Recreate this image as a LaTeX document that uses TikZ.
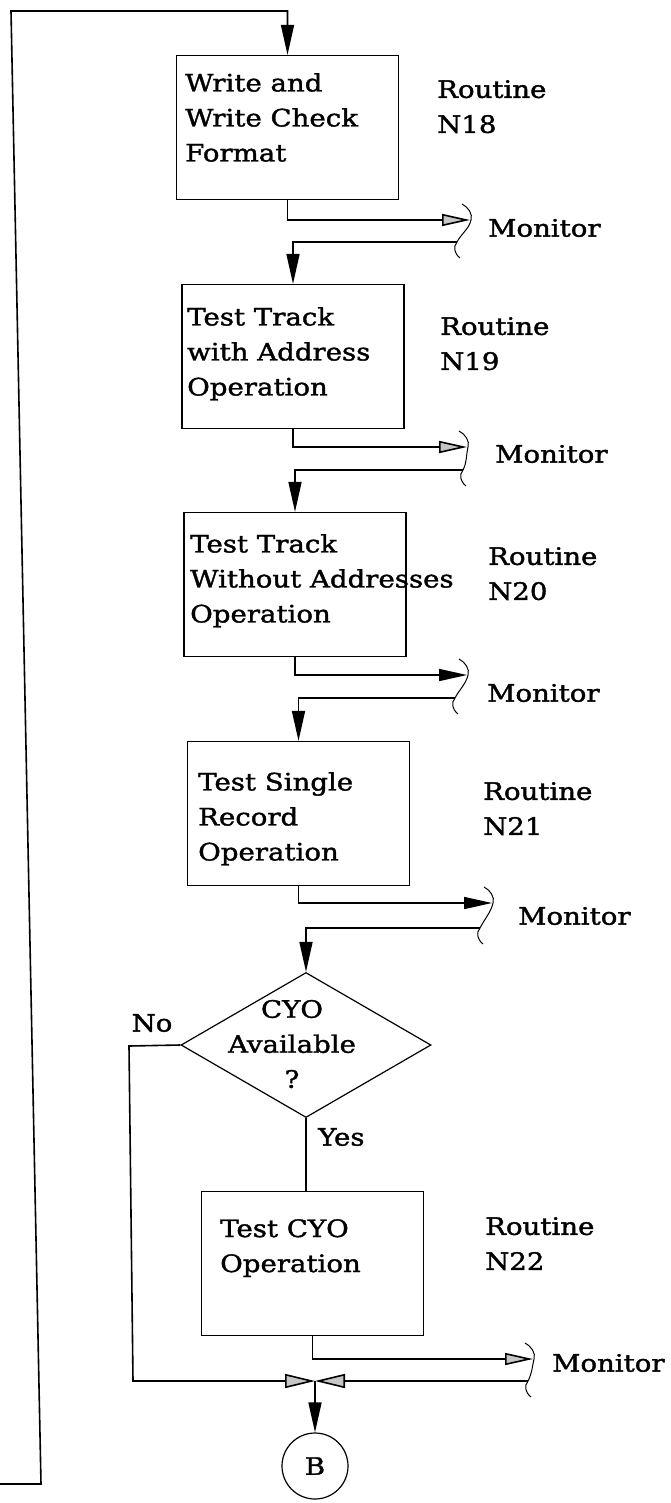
\documentclass[tikz,border=0pt]{standalone}
\usepackage{fontspec}
\setmainfont{DejaVu Serif}[FakeStretch=1.15,FakeBold=1.5]
\usetikzlibrary{arrows.meta,shapes.geometric}

% Brace-like "Monitor" connector: a ")" above the outgoing tip, a "(" below the return point
\newcommand\monbrace[2]{%
  \draw[thinline] ([shift={(-8,-16)}]#1)
    .. controls ([shift={(-2,-13)}]#1) and ([shift={(3,-6)}]#1) .. ([shift={(1,0)}]#1)
    .. controls ([shift={(-1,9)}]#1) and ([shift={(4,-8)}]#2) .. (#2)
    .. controls ([shift={(-4,5)}]#2) and ([shift={(-3,11)}]#2) .. ([shift={(3,16)}]#2);}

\begin{document}
\begin{tikzpicture}[x=1pt,y=-1pt,
  line/.style={line width=1.6pt},
  thinline/.style={line width=1pt},
  flowin/.style={line,-{Triangle[length=30pt,width=13pt]}},
  monarrow/.style={line,-{Triangle[length=28pt,width=12pt,fill=gray!45]}},
  mondark/.style={line,-{Triangle[length=28pt,width=12pt]}},
  juncarrow/.style={line,-{Triangle[length=30pt,width=14pt,fill=gray!45]}},
  boxnode/.style={draw,line width=1.2pt,rectangle,inner sep=0pt,
    minimum width=222pt,minimum height=144pt},
  txt/.style={font=\fontsize{24}{35}\selectfont,inner sep=0pt,align=left},
]
\fill[white] (0,0) rectangle (670,1503);
\useasboundingbox (0,0) rectangle (670,1503);

% process boxes
\node[boxnode] (b1) at (287.5,127.5) {};
\node[boxnode] (b2) at (293,356.5) {};
\node[boxnode] (b3) at (295,584.5) {};
\node[boxnode] (b4) at (298.5,813.5) {};
\node[boxnode] (b5) at (312.5,1263.5) {};

% box texts
\node[txt,anchor=north west] (t1) at (185,73) {Write and\\Write Check\\Format};
\node[txt,anchor=north west] (t2) at (187,307) {Test Track\\with Address\\Operation};
\node[txt,anchor=north west] (t3) at (190,534) {Test Track\\Without Addresses\\Operation};
\node[txt,anchor=north west] (t4) at (198,772) {Test Single\\Record\\Operation};
\node[txt,anchor=north west] (t5) at (220,1219) {Test CYO\\Operation};

% routine labels
\node[txt,anchor=north west] (r18) at (437,80) {Routine\\N18};
\node[txt,anchor=north west] (r19) at (440,317) {Routine\\N19};
\node[txt,anchor=north west] (r20) at (488,547) {Routine\\N20};
\node[txt,anchor=north west] (r21) at (483,782) {Routine\\N21};
\node[txt,anchor=north west] (r22) at (485,1217) {Routine\\N22};

% monitor labels
\node[txt,anchor=west] (mon1) at (488,228) {Monitor};
\node[txt,anchor=west] (mon2) at (495,454) {Monitor};
\node[txt,anchor=west] (mon3) at (487,693) {Monitor};
\node[txt,anchor=west] (mon4) at (518,916) {Monitor};
\node[txt,anchor=west] (mon5) at (552,1363) {Monitor};

% monitor connection points
\coordinate (m1in) at (470,220);  \coordinate (m1ret) at (457,242);
\coordinate (m2in) at (467,447);  \coordinate (m2ret) at (463,470);
\coordinate (m3in) at (467,675);  \coordinate (m3ret) at (455,698);
\coordinate (m4in) at (492,903);  \coordinate (m4ret) at (480,928);
\coordinate (m5in) at (533,1359); \coordinate (m5ret) at (528,1381);

% decision
\node[draw,diamond,line width=1.2pt,minimum width=250pt,minimum height=145pt,inner sep=0pt]
  (d) at (306,1045) {};
\node[txt,align=center] (dq) at (292,1044) {CYO\\Available\\?};
\node[txt] (no) at (152,1023) {No};
\node[txt,anchor=west] (yes) at (318,1137) {Yes};

% off-page connector
\node[draw,circle,line width=1.2pt,minimum size=66pt,inner sep=0pt,
  font=\fontsize{24}{35}\selectfont] (cB) at (315,1466) {B};

% auxiliary points
\coordinate (loopstart) at (0,1484);
\coordinate (loopbl) at (41,1484);
\coordinate (looptl) at (11,11);
\coordinate (nocorner) at (129,1046);
\coordinate (nobottom) at (133,1381);
\coordinate (junc) at (315,1381);

% return loop into the first routine
\draw[flowin] (loopstart) -- (loopbl) -- (looptl) -- (looptl -| b1.north) -- (b1.north);

% routine -> monitor -> next routine
\draw[monarrow] (b1.south) |- (m1in);
\monbrace{m1in}{m1ret}
\draw[flowin] (m1ret) -| (b2.north);

\draw[monarrow] (b2.south) |- (m2in);
\monbrace{m2in}{m2ret}
\draw[flowin] (m2ret) -| (b3.north);

\draw[mondark] (b3.south) |- (m3in);
\monbrace{m3in}{m3ret}
\draw[flowin] (m3ret) -| (b4.north);

\draw[mondark] (b4.south) |- (m4in);
\monbrace{m4in}{m4ret}
\draw[flowin] (m4ret) -| (d.north);

% decision branches
\draw[line] (d.south) -- (d.south |- b5.north);
\draw[monarrow] (b5.south) |- (m5in);
\monbrace{m5in}{m5ret}
\draw[juncarrow] (m5ret) -- (junc);
\draw[juncarrow] (d.west) -- (nocorner) -- (nobottom) -- (junc);
\draw[flowin] (junc) -- (cB.north);
\end{tikzpicture}
\end{document}
